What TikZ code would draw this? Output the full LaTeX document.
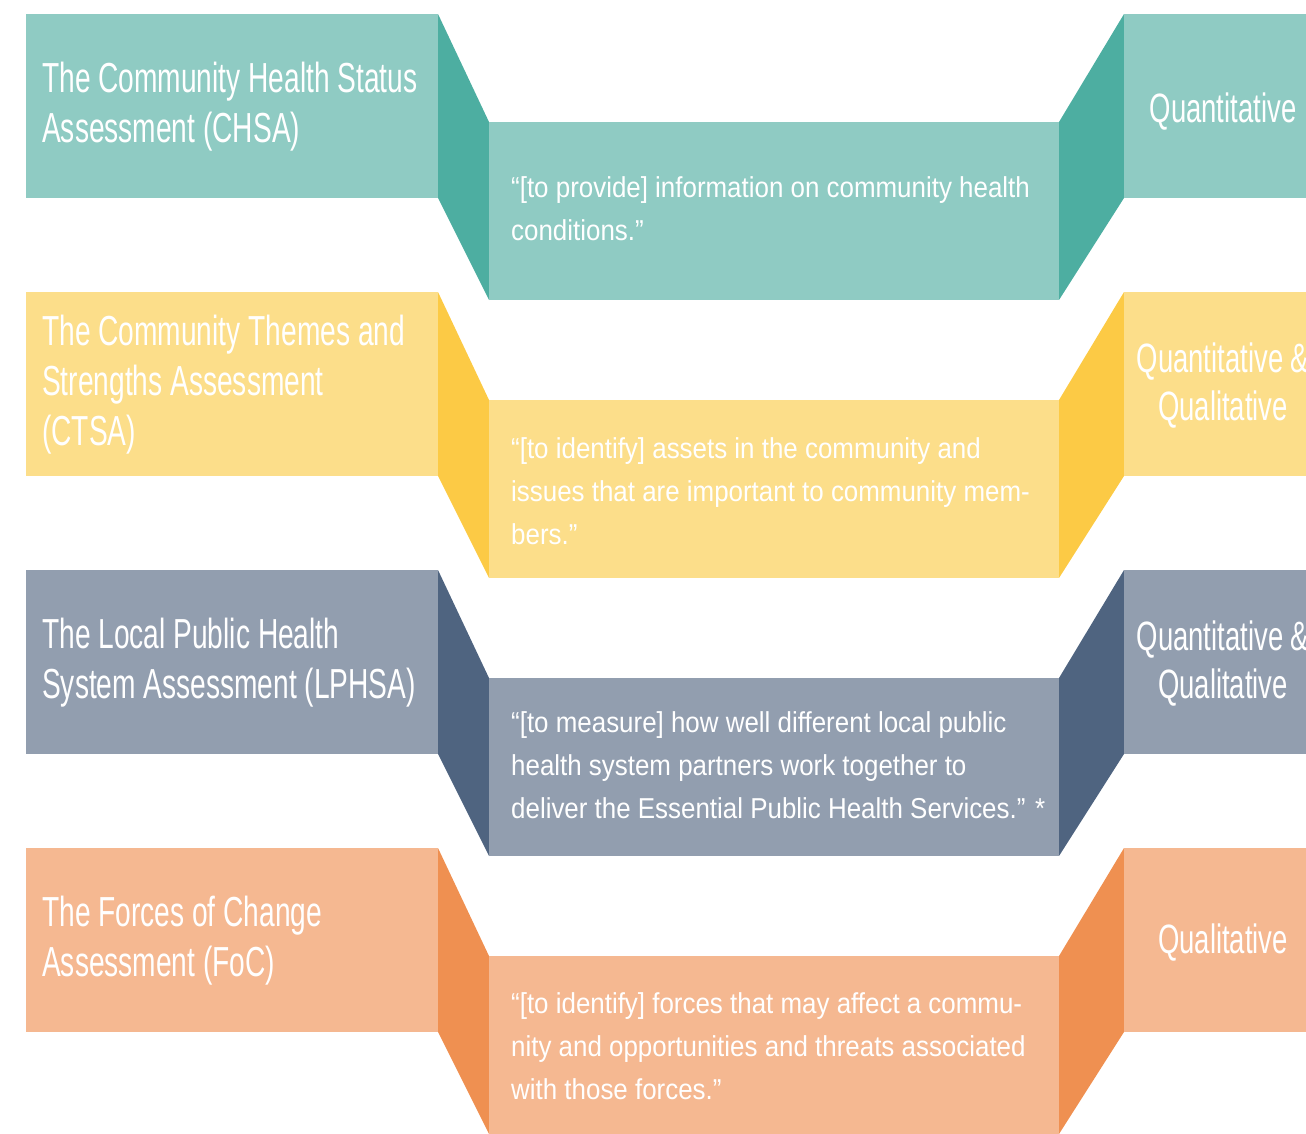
\documentclass[tikz,border=0pt]{standalone}
\usepackage{fontspec}
\setmainfont{Liberation Sans}
\newfontfamily\titlefont[FakeStretch=0.67]{Liberation Sans}
\newfontfamily\quotefont[FakeStretch=0.9]{Liberation Sans}
\definecolor{tealL}{HTML}{8FCBC3}
\definecolor{tealD}{HTML}{4DAEA1}
\definecolor{yelL}{HTML}{FCDE8A}
\definecolor{yelD}{HTML}{FCCA45}
\definecolor{slaL}{HTML}{929EAF}
\definecolor{slaD}{HTML}{4F6480}
\definecolor{oraL}{HTML}{F5B891}
\definecolor{oraD}{HTML}{EF9051}
\tikzset{
  titletxt/.style={anchor=west,align=left,text=white,inner sep=0pt,font=\titlefont\fontsize{42}{50}\selectfont},
  quotetxt/.style={anchor=west,align=left,text=white,inner sep=0pt,font=\quotefont\fontsize{28.8}{43}\selectfont},
  kindtxt/.style={anchor=center,align=center,text=white,inner sep=0pt,font=\titlefont\fontsize{41}{48}\selectfont},
}
\newcommand{\bandrow}[9]{%
  % #1 dy, #2 light, #3 dark, #4 name, #5 title, #6 quote, #7 kind, #8 quote y, #9 kind y
  \begin{scope}[yshift=-#1pt]
    \fill[#2] (26,14) rectangle (438,198);
    \fill[#3] (438,14) -- (489,122) -- (489,300) -- (438,198) -- cycle;
    \fill[#2] (489,122) rectangle (1059,300);
    \fill[#3] (1059,122) -- (1124,14) -- (1124,198) -- (1059,300) -- cycle;
    \fill[#2] (1124,14) rectangle (1340,198);
    \node[titletxt] (#4title) at (42,107) {#5};
    \node[quotetxt] (#4quote) at (511,#8) {#6};
    \node[kindtxt] (#4kind) at (1223,#9) {#7};
  \end{scope}}
\begin{document}
\begin{tikzpicture}[x=1pt,y=-1pt]
\useasboundingbox (0,0) rectangle (1306,1134);
\clip (0,0) rectangle (1306,1134);
\bandrow{0}{tealL}{tealD}{chsa}{The Community Health Status\\Assessment (CHSA)}{“[to provide] information on community health\\conditions.”}{Quantitative}{209}{112}
\bandrow{278}{yelL}{yelD}{ctsa}{The Community Themes and\\Strengths Assessment\\(CTSA)}{“[to identify] assets in the community and\\issues that are important to community mem-\\bers.”}{Quantitative \&\\Qualitative}{213}{108}
\bandrow{556}{slaL}{slaD}{lphsa}{The Local Public Health\\System Assessment (LPHSA)}{“[to measure] how well different local public\\health system partners work together to\\deliver the Essential Public Health Services.” *}{Quantitative \&\\Qualitative}{209}{108}
\bandrow{834}{oraL}{oraD}{foc}{The Forces of Change\\Assessment (FoC)}{“[to identify] forces that may affect a commu-\\nity and opportunities and threats associated\\with those forces.”}{Qualitative}{212}{109}
\end{tikzpicture}
\end{document}
